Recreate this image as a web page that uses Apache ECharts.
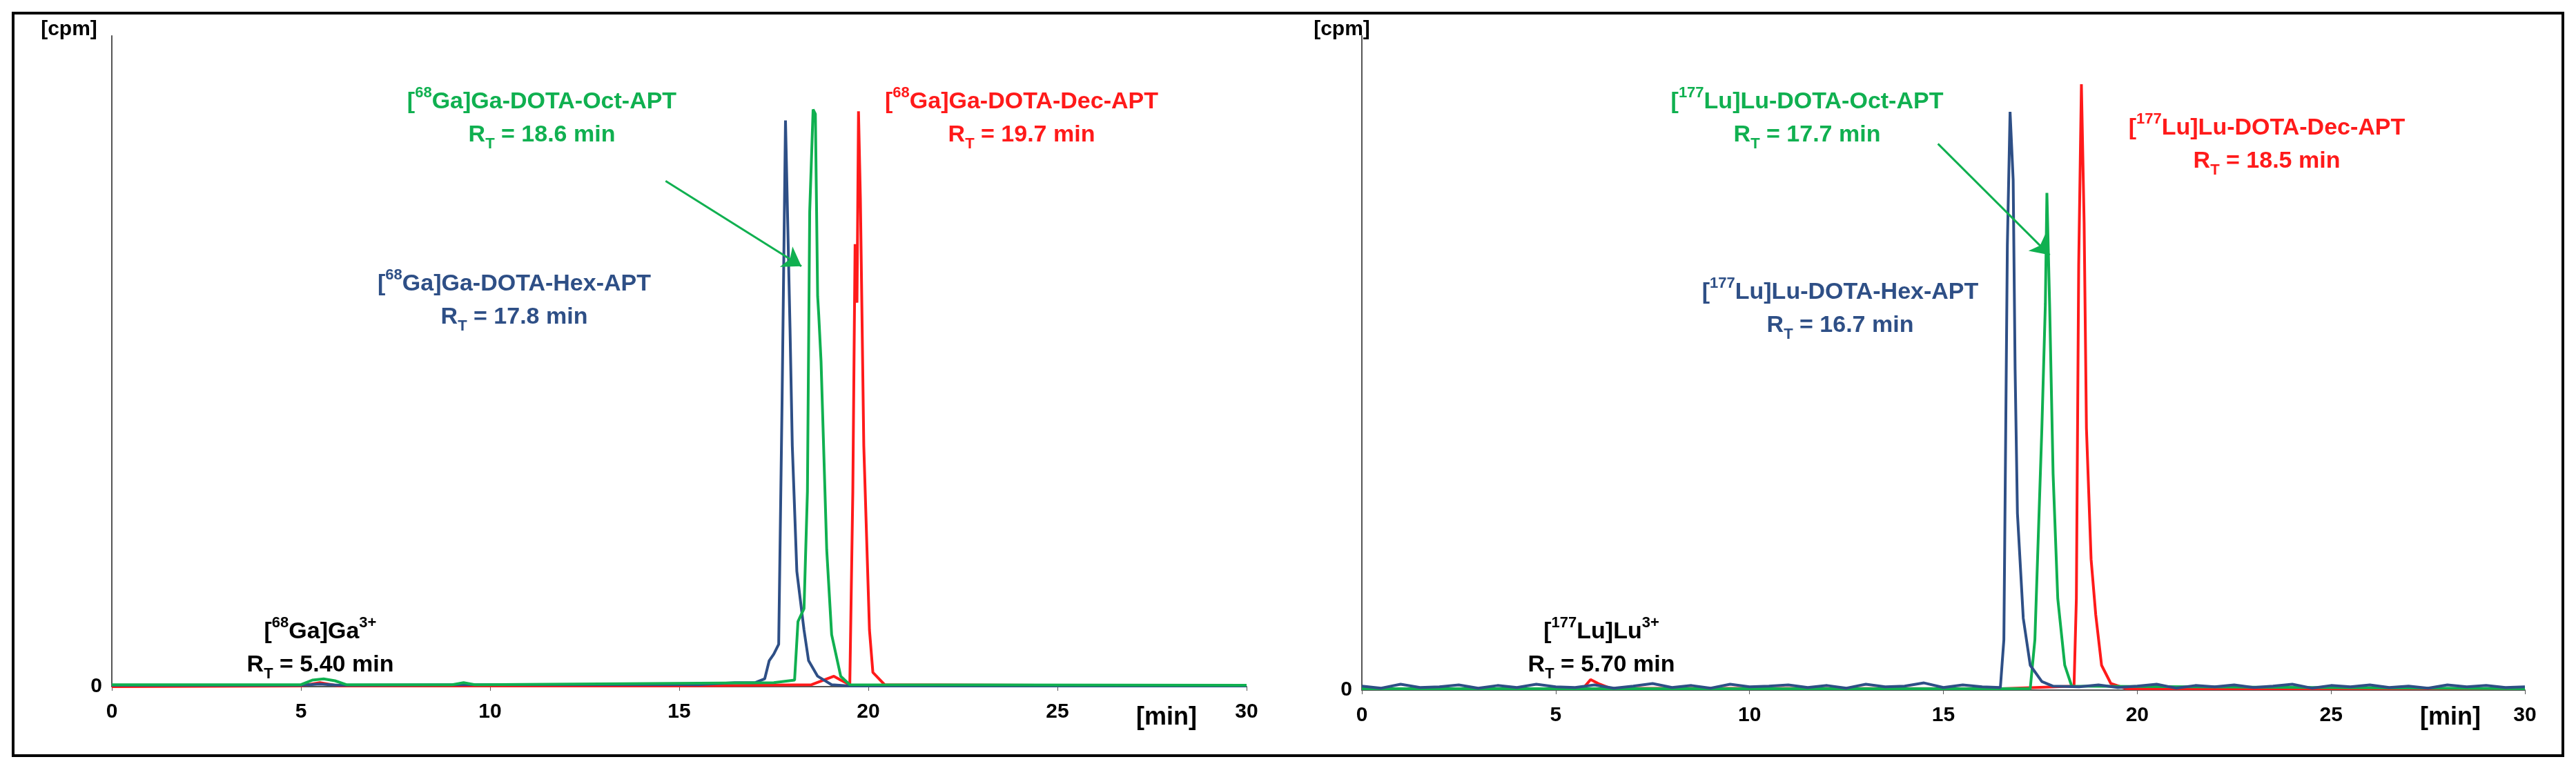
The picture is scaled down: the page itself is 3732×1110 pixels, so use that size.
<!DOCTYPE html>
<html>
<head>
<meta charset="utf-8">
<script src="https://cdn.jsdelivr.net/npm/echarts@6/dist/echarts.min.js"></script>
<style>
html,body{margin:0;padding:0;background:#fff;}
#main{width:3732px;height:1110px;}
</style>
</head>
<body>
<div id="main"></div>
<script>
// ---- data, left panel (68Ga) ----
var gaHexT = [0, 5.0, 5.5, 6.0, 9.3, 15.5, 16.47, 17.0, 17.26, 17.38, 17.5, 17.63, 17.72, 17.81, 17.93, 17.99, 18.11, 18.30, 18.42, 18.66, 19.03, 19.5, 30];
var gaHexV = [0.2, 0.2, 0.4, 0.2, 0.3, 0.3, 0.6, 0.6, 1.2, 4.0, 5.0, 6.5, 44, 87, 55, 37, 17.7, 8.7, 4.0, 1.6, 0.3, 0.1, 0.1];
var gaOctT = [0, 5.0, 5.3, 5.6, 5.9, 6.2, 9.0, 9.3, 9.6, 17.5, 18.05, 18.14, 18.30, 18.39, 18.45, 18.54, 18.60, 18.66, 18.69, 18.75, 18.90, 19.03, 19.27, 19.51, 30];
var gaOctV = [0.3, 0.3, 1.0, 1.2, 0.9, 0.3, 0.3, 0.6, 0.3, 0.6, 1.0, 10, 12, 30, 73, 88.7, 88, 60, 57, 50, 21, 8, 1.6, 0.3, 0.2];
var gaDecT = [0, 5.0, 5.5, 6.0, 15, 18.5, 19.09, 19.27, 19.51, 19.59, 19.65, 19.70, 19.74, 19.79, 19.88, 20.03, 20.12, 20.43, 30];
var gaDecV = [0, 0.1, 0.6, 0.1, 0.1, 0.3, 1.6, 1.0, 0.3, 30, 68, 59, 88.4, 75, 37, 8.7, 2.2, 0.3, 0.1];

// ---- data, right panel (177Lu) ----
var luHexT = [0, 0.5, 1, 1.5, 2, 2.5, 3, 3.5, 4, 4.5, 5, 5.5, 6, 6.5, 7, 7.5, 8, 8.5, 9, 9.5, 10, 10.5, 11, 11.5, 12, 12.5, 13, 13.5, 14, 14.5, 15, 15.5, 16, 16.47, 16.56, 16.65, 16.72, 16.80, 16.85, 16.91, 17.06, 17.24, 17.54, 17.83, 18.5, 19, 19.5, 20, 20.5, 21, 21.5, 22, 22.5, 23, 23.5, 24, 24.5, 25, 25.5, 26, 26.5, 27, 27.5, 28, 28.5, 29, 29.5, 30];
var luHexV = [0.6, 0.3, 0.9, 0.4, 0.5, 0.8, 0.3, 0.7, 0.4, 0.9, 0.5, 0.4, 0.8, 0.3, 0.6, 1.0, 0.4, 0.7, 0.3, 0.9, 0.5, 0.6, 0.8, 0.4, 0.7, 0.3, 0.9, 0.5, 0.6, 1.1, 0.4, 0.8, 0.5, 0.4, 7.7, 68, 88.4, 78, 49, 27, 11, 3.8, 1.3, 0.6, 0.5, 0.8, 0.4, 0.6, 0.9, 0.3, 0.7, 0.5, 0.8, 0.4, 0.6, 0.9, 0.3, 0.7, 0.5, 0.8, 0.4, 0.6, 0.3, 0.8, 0.5, 0.7, 0.4, 0.5];
var luOctT = [0, 17.24, 17.36, 17.54, 17.63, 17.67, 17.70, 17.74, 17.83, 17.95, 18.13, 18.31, 30];
var luOctV = [0.2, 0.2, 7.7, 40, 59, 76, 76, 59, 33, 14, 3.8, 0.6, 0.2];
var luDecT = [0, 5.7, 5.9, 6.1, 6.4, 16.5, 18.37, 18.43, 18.49, 18.56, 18.63, 18.69, 18.81, 18.93, 19.08, 19.32, 19.73, 30];
var luDecV = [0.2, 0.2, 1.6, 1.0, 0.3, 0.2, 0.6, 14, 65, 92.6, 71.5, 40, 20, 11.5, 3.8, 1.0, 0.2, 0.2];

var xTicks = [0, 5, 10, 15, 20, 25, 30];

var cBlue = '#2e4f86', cGreen = '#10b050', cRed = '#ff1a1a';

function pairs(t, v) {
    var out = [];
    for (var i = 0; i < t.length; i++) out.push([t[i], v[i]]);
    return out;
}

var font = '"Liberation Sans Narrow", "Liberation Sans", sans-serif';
var rich = {
    b: {fontSize: 34, fontWeight: 'bold', fontFamily: font, lineHeight: 48},
    s: {fontSize: 22, fontWeight: 'bold', fontFamily: font, verticalAlign: 'top', lineHeight: 48, padding: [0, 0, 14, 0]},
    t: {fontSize: 22, fontWeight: 'bold', fontFamily: font, verticalAlign: 'bottom', lineHeight: 48, padding: [16, 0, 0, 0]}
};
function textAt(cx, cy, color, iso, rest, rt) {
    return {
        type: 'text', x: cx, y: cy,
        style: {
            text: '{b|[}{s|' + iso + '}{b|' + rest + '}\n{b|R}{t|T}{b| = ' + rt + '}',
            rich: rich, fill: color, align: 'center', verticalAlign: 'top'
        }
    };
}

function xAxis(idx) {
    return {
        type: 'value', gridIndex: idx, min: 0, max: 30, interval: 5,
        axisLine: {lineStyle: {color: '#555', width: 2}},
        axisTick: {length: 6, lineStyle: {color: '#555'}},
        splitLine: {show: false},
        axisLabel: {fontSize: 30, fontWeight: 'bold', fontFamily: font, color: '#000', margin: 22,
            formatter: function (v) { return xTicks.indexOf(v) >= 0 ? String(v) : ''; }}
    };
}
function yAxis(idx) {
    return {
        type: 'value', gridIndex: idx, min: 0, max: 100, interval: 100,
        axisLine: {show: true, lineStyle: {color: '#555', width: 2}},
        axisTick: {show: false},
        splitLine: {show: false},
        axisLabel: {fontSize: 30, fontWeight: 'bold', fontFamily: font, color: '#000', margin: 14,
            formatter: function (v) { return v === 0 ? '0' : ''; }}
    };
}
function line(name, idx, data, color, arrow) {
    var s = {
        name: name, type: 'line', xAxisIndex: idx, yAxisIndex: idx,
        data: data, showSymbol: false, symbol: 'none',
        lineStyle: {color: color, width: 4}, z: 3
    };
    if (arrow) {
        s.markLine = {
            silent: true, symbol: ['none', 'arrow'], symbolSize: 26,
            lineStyle: {color: cGreen, width: 3, type: 'solid'}, label: {show: false},
            data: [[{coord: arrow[0]}, {coord: arrow[1]}]]
        };
    }
    return s;
}

var chart = echarts.init(document.getElementById('main'));
chart.setOption({
    backgroundColor: '#fff',
    animation: false,
    grid: [
        {left: 162, right: 1926, top: 52, bottom: 115},
        {left: 1973, right: 74, top: 52, bottom: 110}
    ],
    xAxis: [xAxis(0), xAxis(1)],
    yAxis: [yAxis(0), yAxis(1)],
    series: [
        line('Ga-Dec', 0, pairs(gaDecT, gaDecV), cRed),
        line('Ga-Hex', 0, pairs(gaHexT, gaHexV), cBlue),
        line('Ga-Oct', 0, pairs(gaOctT, gaOctV), cGreen, [[14.64, 77.7], [18.23, 64.6]]),
        line('Lu-Dec', 1, pairs(luDecT, luDecV), cRed),
        line('Lu-Oct', 1, pairs(luOctT, luOctV), cGreen, [[14.86, 83.5], [17.74, 66.5]]),
        line('Lu-Hex', 1, pairs(luHexT, luHexV), cBlue)
    ],
    graphic: [
        {type: 'rect', shape: {x: 19, y: 19, width: 3694, height: 1076},
         style: {fill: 'none', stroke: '#000', lineWidth: 4}},
        {type: 'text', x: 100, y: 43, style: {text: '[cpm]', font: 'bold 30px ' + font, fill: '#000', align: 'center', verticalAlign: 'middle'}},
        {type: 'text', x: 1944, y: 43, style: {text: '[cpm]', font: 'bold 30px ' + font, fill: '#000', align: 'center', verticalAlign: 'middle'}},
        {type: 'text', x: 1690, y: 1040, style: {text: '[min]', font: 'bold 36px ' + font, fill: '#000', align: 'center', verticalAlign: 'middle'}},
        {type: 'text', x: 3550, y: 1040, style: {text: '[min]', font: 'bold 36px ' + font, fill: '#000', align: 'center', verticalAlign: 'middle'}},
        textAt(785, 124, cGreen, '68', 'Ga]Ga-DOTA-Oct-APT', '18.6 min'),
        textAt(1480, 124, cRed, '68', 'Ga]Ga-DOTA-Dec-APT', '19.7 min'),
        textAt(745, 388, cBlue, '68', 'Ga]Ga-DOTA-Hex-APT', '17.8 min'),
        {type: 'text', x: 464, y: 892, style: {text: '{b|[}{s|68}{b|Ga]Ga}{s|3+}\n{b|R}{t|T}{b| = 5.40 min}', rich: rich, fill: '#000', align: 'center', verticalAlign: 'top'}},
        textAt(2618, 124, cGreen, '177', 'Lu]Lu-DOTA-Oct-APT', '17.7 min'),
        textAt(3284, 162, cRed, '177', 'Lu]Lu-DOTA-Dec-APT', '18.5 min'),
        textAt(2666, 400, cBlue, '177', 'Lu]Lu-DOTA-Hex-APT', '16.7 min'),
        {type: 'text', x: 2320, y: 892, style: {text: '{b|[}{s|177}{b|Lu]Lu}{s|3+}\n{b|R}{t|T}{b| = 5.70 min}', rich: rich, fill: '#000', align: 'center', verticalAlign: 'top'}}
    ]
});
</script>
</body>
</html>
